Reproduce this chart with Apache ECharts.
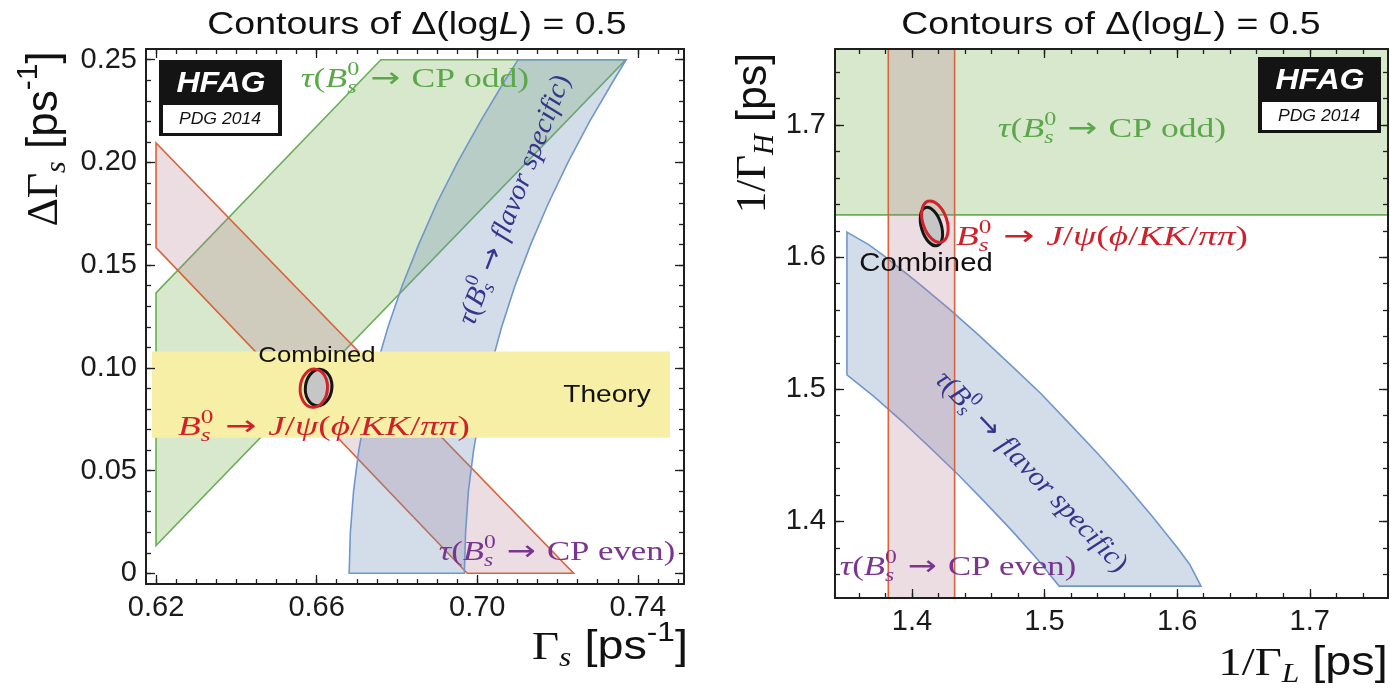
<!DOCTYPE html>
<html>
<head>
<meta charset="utf-8">
<script src="https://cdn.jsdelivr.net/npm/echarts@6/dist/echarts.min.js"></script>
<style>
html, body { margin: 0; padding: 0; background: #fff; }
#main { width: 1390px; height: 694px; }
</style>
</head>
<body>
<div id="main"></div>
<script>
// ---- left panel: Gamma_s vs DeltaGamma_s [ps-1]
var xTicksLeft = [0.62, 0.66, 0.70, 0.74];
var yTicksLeft = [0, 0.05, 0.10, 0.15, 0.20, 0.25];
var xRangeLeft = [0.6175, 0.7515];
var yRangeLeft = [-0.0052, 0.2552];
var cpOddLeft = [[0.62, 0.0135], [0.62, 0.1365], [0.676, 0.25], [0.737, 0.25]];
var cpEvenLeft = [[0.62, 0.2095], [0.62, 0.1585], [0.6975, 0], [0.724, 0]];
var flavorLowLeft = [[0.6681, 0], [0.6684, 0.02], [0.6692, 0.04], [0.6705, 0.06], [0.6724, 0.08], [0.6748, 0.10], [0.6778, 0.12],
  [0.6813, 0.14], [0.6854, 0.16], [0.6899, 0.18], [0.6951, 0.20], [0.7008, 0.22], [0.7069, 0.24], [0.7102, 0.25]];
var flavorHighLeft = [[0.6968, 0], [0.6971, 0.02], [0.6978, 0.04], [0.6991, 0.06], [0.7009, 0.08], [0.7033, 0.10], [0.7061, 0.12],
  [0.7094, 0.14], [0.7133, 0.16], [0.7177, 0.18], [0.7226, 0.20], [0.7280, 0.22], [0.7340, 0.24], [0.7371, 0.25]];
var theoryGamma = [0.619, 0.748];
var theoryDeltaGamma = [0.066, 0.108];
// ellipses: centre x, centre y, half width, half height, tilt
var combinedLeft = [0.6605, 0.0904, 0.0033, 0.0089, -0.12];
var jpsiLeft = [0.6593, 0.0901, 0.0034, 0.0093, -0.08];

// ---- right panel: 1/Gamma_L vs 1/Gamma_H [ps]
var xTicksRight = [1.4, 1.5, 1.6, 1.7];
var yTicksRight = [1.4, 1.5, 1.6, 1.7];
var xRangeRight = [1.342, 1.759];
var yRangeRight = [1.342, 1.7576];
var cpOddRight = 1.632;
var cpEvenRight = [1.3822, 1.4322];
var flavorUpperRight = [[1.351, 1.619], [1.3674, 1.6095], [1.3797, 1.6005], [1.4037, 1.5813], [1.4276, 1.5613], [1.451, 1.5404],
  [1.474, 1.5188], [1.497, 1.497], [1.5188, 1.474], [1.5404, 1.451], [1.5613, 1.4276], [1.5813, 1.4037], [1.6005, 1.3797],
  [1.6095, 1.3674], [1.618, 1.351]];
var flavorLowerRight = [[1.351, 1.511], [1.3715, 1.4945], [1.393, 1.4754], [1.4142, 1.4554], [1.4351, 1.4351],
  [1.4554, 1.4142], [1.4754, 1.393], [1.4945, 1.3715], [1.511, 1.351]];
var combinedRight = [1.4147, 1.6232, 0.0075, 0.0151, 0.3];
var jpsiRight = [1.4173, 1.6269, 0.009, 0.0163, 0.33];

var SANS = '"Liberation Sans", Arial, sans-serif';
var SERIF = '"Liberation Serif", "DejaVu Serif", serif';
var DEJAVU = '"DejaVu Sans", sans-serif';
var FRAME = '#1e1e1e';
var GREEN = 'rgba(125,178,85,0.30)', GREEN_LINE = '#6aae5a';
var RED = 'rgba(179,119,143,0.25)', RED_LINE = '#d8643c';
var BLUE = 'rgba(108,142,182,0.30)', BLUE_LINE = '#6f97cc';

function steps(from, to, step) {
  var out = [];
  for (var v = from; v <= to + 1e-9; v += step) out.push(+v.toFixed(4));
  return out;
}

function frameAxis(grid, pos, range, ticks, len, line, fmt) {
  return {
    type: 'value', gridIndex: grid, position: pos, min: range[0], max: range[1], z: 5,
    axisLine: { show: line, onZero: false, lineStyle: { color: FRAME, width: 2 } },
    axisTick: { show: true, inside: true, length: len, customValues: ticks, lineStyle: { color: FRAME, width: 1.3 } },
    axisLabel: fmt ? { show: true, customValues: ticks, formatter: fmt, fontFamily: SANS, fontSize: 29, color: '#1a1a1a', margin: 9 } : { show: false },
    splitLine: { show: false }
  };
}

var xAxes = [], yAxes = [];
function addAxes(g, xr, yr, xMaj, xMin, yMaj, yMin, xf, yf) {
  xAxes.push(frameAxis(g, 'bottom', xr, xMaj, 9, true, xf), frameAxis(g, 'top', xr, xMaj, 9, true, null),
    frameAxis(g + 1, 'bottom', xr, xMin, 5, false, null), frameAxis(g + 1, 'top', xr, xMin, 5, false, null));
  yAxes.push(frameAxis(g, 'left', yr, yMaj, 9, true, yf), frameAxis(g, 'right', yr, yMaj, 9, true, null),
    frameAxis(g + 1, 'left', yr, yMin, 5, false, null), frameAxis(g + 1, 'right', yr, yMin, 5, false, null));
}
addAxes(0, xRangeLeft, yRangeLeft, xTicksLeft, steps(0.62, 0.75, 0.005), yTicksLeft, steps(0, 0.25, 0.01),
  function (v) { return v.toFixed(2); }, function (v) { return v === 0 ? '0' : v.toFixed(2); });
addAxes(2, xRangeRight, yRangeRight, xTicksRight, steps(1.36, 1.74, 0.02), yTicksRight, steps(1.36, 1.74, 0.02),
  function (v) { return v.toFixed(1); }, function (v) { return v.toFixed(1); });
// major-axis pairs: left panel uses index 0, right panel index 4

function shapeSeries(pts, axis, fill, stroke, lw) {
  return {
    type: 'custom', xAxisIndex: axis, yAxisIndex: axis, clip: true, silent: true,
    data: pts,
    renderItem: function (params, api) {
      if (params.dataIndex > 0) return null;
      return {
        type: 'polygon',
        shape: { points: pts.map(function (p) { return api.coord(p); }) },
        style: { fill: fill, stroke: stroke, lineWidth: lw }
      };
    }
  };
}

function ellipseSeries(e, axis, fill, stroke) {
  return {
    type: 'custom', xAxisIndex: axis, yAxisIndex: axis, clip: true, silent: true,
    data: [e],
    renderItem: function (params, api) {
      var c = api.coord([api.value(0), api.value(1)]);
      var s = api.size([api.value(2), api.value(3)]);
      return {
        type: 'ellipse', x: c[0], y: c[1], rotation: api.value(4),
        shape: { cx: 0, cy: 0, rx: s[0], ry: s[1] },
        style: { fill: fill, stroke: stroke, lineWidth: 3 }
      };
    }
  };
}

var flavorLeft = flavorLowLeft.concat(flavorHighLeft.slice().reverse());
var theoryBox = [[theoryGamma[0], theoryDeltaGamma[0]], [theoryGamma[1], theoryDeltaGamma[0]],
  [theoryGamma[1], theoryDeltaGamma[1]], [theoryGamma[0], theoryDeltaGamma[1]]];
var flavorRight = flavorUpperRight.concat(flavorLowerRight.slice().reverse());
var cpOddBandRight = [[1.0, cpOddRight], [2.0, cpOddRight], [2.0, 2.0], [1.0, 2.0]];
var cpEvenBandRight = [[cpEvenRight[0], 1.0], [cpEvenRight[1], 1.0], [cpEvenRight[1], 2.0], [cpEvenRight[0], 2.0]];

var series = [
  shapeSeries(cpOddLeft, 0, GREEN, GREEN_LINE, 1.6),
  shapeSeries(cpEvenLeft, 0, RED, RED_LINE, 1.6),
  shapeSeries(flavorLeft, 0, BLUE, BLUE_LINE, 1.6),
  shapeSeries(theoryBox, 0, '#f7efa6', null, 0),
  ellipseSeries(combinedLeft, 0, '#c6c6c6', '#151515'),
  ellipseSeries(jpsiLeft, 0, 'rgba(0,0,0,0)', '#d2232a'),
  shapeSeries(cpOddBandRight, 4, GREEN, GREEN_LINE, 1.6),
  shapeSeries(flavorRight, 4, BLUE, BLUE_LINE, 1.6),
  shapeSeries(cpEvenBandRight, 4, RED, RED_LINE, 1.6),
  ellipseSeries(combinedRight, 4, '#c6c6c6', '#151515'),
  ellipseSeries(jpsiRight, 4, 'rgba(0,0,0,0)', '#d2232a')
];

// ---- text with sub/superscripts, built from pieces
var measure = document.createElement('canvas').getContext('2d');
function textWidth(s, font) { measure.font = font; return measure.measureText(s).width; }
// kind flags: i italic, b bold, S sans, D dejavu, ^ sup, _ sub, k keep x (stack next piece)
function mathLabel(parts, size, color, cx, cy, opt) {
  opt = opt || {};
  var kids = [], x = 0, kept = 0;
  parts.forEach(function (p) {
    var t = p[0], k = p[1] || '';
    var small = k.indexOf('^') >= 0 || k.indexOf('_') >= 0;
    var fs = small ? Math.round(size * 0.68) : size;
    var fam = k.indexOf('S') >= 0 ? SANS : (k.indexOf('D') >= 0 ? DEJAVU : SERIF);
    var font = (k.indexOf('i') >= 0 ? 'italic ' : '') + (k.indexOf('b') >= 0 ? 'bold ' : '') + fs + 'px ' + fam;
    var dy = k.indexOf('^') >= 0 ? -size * 0.36 : (k.indexOf('_') >= 0 ? size * 0.27 : 0);
    var w = textWidth(t, font);
    kids.push({ type: 'text', z: 110, x: x, y: dy, style: { text: t, font: font, fill: color, textAlign: 'left', textVerticalAlign: 'middle', align: 'left', verticalAlign: 'middle' } });
    if (k.indexOf('k') >= 0) { kept = w; } else { x += Math.max(w, kept); kept = 0; }
  });
  kids.forEach(function (c) { c.x -= x / 2; });
  return { type: 'group', x: cx, y: cy, rotation: opt.rot || 0, scaleX: opt.sx || 1, scaleY: opt.sy || 1, z: 110, children: kids };
}

var TXT_GREEN = '#5aa84a', TXT_RED = '#d0202a', TXT_BLUE = '#35358c', TXT_PURPLE = '#7a3590';
var bs = [['B', 'i'], ['0', '^k'], ['s', '_i']];
var arrow = [[' → ', 'D']];
function tauLabel(tail) {
  return [['τ', 'i'], ['(', '']].concat(bs, arrow, tail);
}
var jpsiText = bs.concat(arrow, [['J', 'i'], ['/', ''], ['ψ', 'i'], ['(', ''], ['ϕ', 'i'], ['/', ''], ['KK', 'i'], ['/', ''], ['ππ', 'i'], [')', '']]);
var titleText = [['Contours of Δ(log', 'S'], ['L', 'Si'], [') = 0.5', 'S']];

function hfag(x, y) {
  return [
    { type: 'rect', z: 100, shape: { x: x, y: y, width: 123, height: 76 }, style: { fill: '#141414' } },
    { type: 'rect', z: 101, shape: { x: x + 4, y: y + 45, width: 115, height: 28 }, style: { fill: '#fff' } },
    mathLabel([['HFAG', 'Sib']], 30, '#fff', x + 62, y + 24, { sx: 1.07 }),
    mathLabel([['PDG 2014', 'Si']], 16, '#111', x + 61, y + 60, { sx: 1.1 })
  ];
}

var graphics = [
  mathLabel(titleText, 32, '#111', 417, 25, { sx: 1.17 }),
  mathLabel(titleText, 32, '#111', 1111, 25, { sx: 1.17 }),
  mathLabel(tauLabel([['CP odd)', '']]), 28, TXT_GREEN, 415, 80, { sx: 1.27 }),
  mathLabel(tauLabel([['flavor specific', 'i'], [')', '']]), 28, TXT_BLUE, 515, 200, { rot: 1.2, sx: 1.04 }),
  mathLabel([['Combined', 'S']], 22, '#111', 317, 356, { sx: 1.17 }),
  mathLabel([['Theory', 'S']], 24, '#111', 607, 395, { sx: 1.17 }),
  mathLabel(jpsiText, 28, TXT_RED, 324, 428, { sx: 1.33 }),
  mathLabel(tauLabel([['CP even)', '']]), 28, TXT_PURPLE, 557, 553, { sx: 1.24 }),
  mathLabel([['ΔΓ', ''], ['s', '_i'], [' [ps', 'S'], ['-1', '^S'], [']', 'S']], 44, '#111', 45, 139, { rot: Math.PI / 2 }),
  mathLabel([['Γ', ''], ['s', '_i'], [' [ps', 'S'], ['-1', '^S'], [']', 'S']], 40, '#111', 610, 648, { sx: 1.17 }),
  mathLabel(tauLabel([['CP odd)', '']]), 28, TXT_GREEN, 1112, 130, { sx: 1.27 }),
  mathLabel(jpsiText, 28, TXT_RED, 1102, 238, { sx: 1.33 }),
  mathLabel([['Combined', 'S']], 25, '#111', 926, 264, { sx: 1.17 }),
  mathLabel(tauLabel([['flavor specific', 'i'], [')', '']]), 28, TXT_BLUE, 1031, 472, { rot: -0.81, sx: 1.04 }),
  mathLabel(tauLabel([['CP even)', '']]), 28, TXT_PURPLE, 958, 568, { sx: 1.24 }),
  mathLabel([['1/Γ', ''], ['H', '_i'], [' [ps]', 'S']], 43, '#111', 754, 133, { rot: Math.PI / 2 }),
  mathLabel([['1/Γ', ''], ['L', '_i'], [' [ps]', 'S']], 40, '#111', 1303, 664, { sx: 1.17 })
].concat(hfag(159, 60), hfag(1258, 57));

var option = {
  animation: false,
  backgroundColor: '#fff',
  grid: [
    { left: 146, top: 49, width: 538, height: 535, outerBoundsMode: 'none' },
    { left: 146, top: 49, width: 538, height: 535, outerBoundsMode: 'none' },
    { left: 835, top: 49, width: 553, height: 549, outerBoundsMode: 'none' },
    { left: 835, top: 49, width: 553, height: 549, outerBoundsMode: 'none' }
  ],
  xAxis: xAxes,
  yAxis: yAxes,
  series: series,
  graphic: graphics
};

echarts.init(document.getElementById('main')).setOption(option);
</script>
</body>
</html>
